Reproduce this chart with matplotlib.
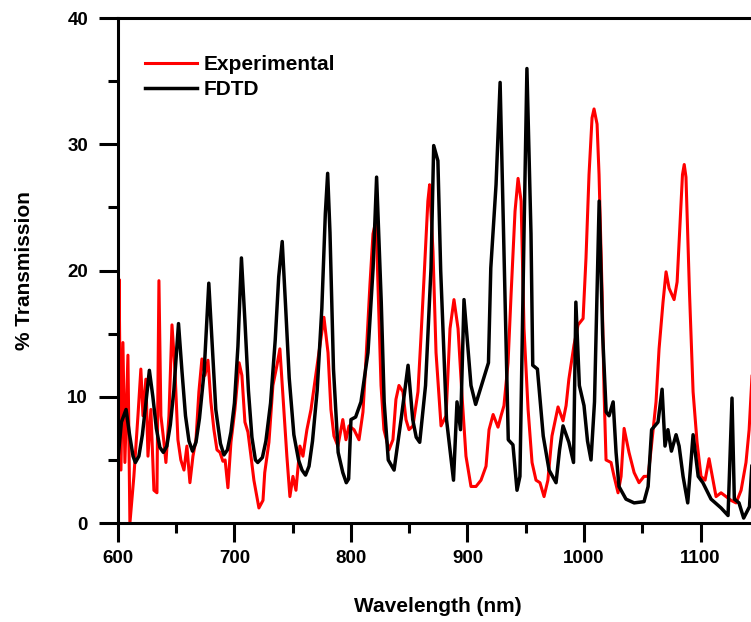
import matplotlib.pyplot as plt
from matplotlib.ticker import MultipleLocator

plt.rcParams['font.family'] = ['Liberation Sans', 'DejaVu Sans']
plt.rcParams['font.weight'] = 'bold'

# %%
# Experimental transmission spectrum (wavelength in nm, % transmission)
exp_wl = [
    600, 601, 602.6, 604.3, 606, 608.6, 610.3, 613.7, 617.2, 619.7, 621.5,
    624, 625.8, 628.3, 630.9, 633.5, 635.2, 636.9, 639.5, 641.2, 643.8,
    646.4, 648.9, 651.5, 654, 656.7, 659.2, 661.8, 664.4, 667, 669.5, 672.1,
    674.7, 677.3, 679.8, 682.4, 685, 687.6, 690.1, 692, 694.4, 697, 700.4,
    704, 706.4, 709, 711.6, 714.2, 716.7, 721, 724.5, 726, 729.6, 733,
    736.5, 739, 742.5, 745, 747.6, 750.2, 752.8, 756.2, 758.8, 762.2,
    765.7, 769, 772.5, 776.8, 780.3, 782.8, 785.4, 788.8, 793, 795.7,
    798.3, 802.6, 806.9, 810.3, 812.9, 816.3, 818.9, 821.5, 823.2, 825.8,
    828.3, 832.6, 836, 838.6, 841.2, 844.6, 847.2, 849.8, 853.2, 857.5,
    860, 862.7, 866, 867.5, 870.4, 873, 877.3, 881.6, 885, 888.4, 891.9,
    895.3, 898.7, 903, 907.3, 911.6, 915.9, 918.5, 922, 926.2, 928.8,
    931.3, 934.8, 937.4, 940.8, 943.4, 946, 948.5, 952, 955.4, 958.8,
    962.2, 965.7, 969, 972.5, 977.7, 982, 984.6, 987, 991.4, 994.9, 999.2,
    1001.7, 1004.3, 1006.9, 1008.6, 1011.2, 1012.9, 1015.5, 1017.2,
    1018.9, 1023.2, 1025.8, 1029.2, 1031.8, 1034.4, 1038.6, 1043, 1047.2,
    1051.5, 1055, 1057.5, 1061.8, 1064.4, 1067.8, 1070.4, 1073, 1077.3,
    1079.9, 1082.4, 1084.5, 1086, 1087.5, 1088.8, 1090.5, 1093.6, 1097,
    1100.4, 1103.9, 1107.3, 1110.7, 1113.3, 1117.6, 1121.9, 1126.2,
    1130.5, 1134.8, 1139, 1141.7, 1144.2,
]
exp_t = [
    6.0, 19.3, 4.2, 14.3, 4.8, 13.3, 0.0, 3.7, 8.5, 12.2, 8.5,
    11.4, 5.3, 9.0, 2.6, 2.4, 19.2, 8.5, 6.4, 4.8, 8.5,
    15.7, 12.2, 6.6, 5.0, 4.2, 6.1, 3.2, 5.3, 6.6, 10.4, 13.0,
    11.7, 12.9, 9.6, 7.4, 5.8, 5.6, 4.9, 5.0, 2.8, 6.4, 9.0,
    12.7, 11.7, 8.0, 7.2, 5.3, 3.4, 1.2, 1.8, 4.0, 6.4, 10.9,
    12.5, 13.8, 8.8, 5.3, 2.1, 3.7, 2.6, 6.1, 5.3, 7.4,
    9.0, 11.2, 13.5, 16.3, 13.5, 9.0, 6.9, 6.1, 8.2, 6.6,
    7.7, 7.4, 6.6, 8.8, 13.0, 18.9, 22.9, 24.0, 18.9, 10.9,
    7.4, 5.8, 6.6, 9.8, 10.9, 10.4, 8.2, 7.4, 7.7, 10.4,
    14.6, 19.4, 25.5, 26.8, 21.5, 13.5, 7.7, 8.5, 15.4, 17.7, 15.4,
    10.1, 5.3, 2.9, 2.9, 3.4, 4.5, 7.4, 8.6, 7.6, 8.5,
    9.3, 12.7, 18.1, 24.7, 27.3, 25.5, 15.4, 9.0, 4.8, 3.4,
    3.2, 2.1, 3.4, 6.9, 9.2, 8.1, 9.3, 11.4, 14.1, 15.7, 16.2,
    21.0, 27.6, 32.1, 32.8, 31.6, 27.6, 18.3, 10.4,
    5.0, 4.8, 3.7, 2.4, 3.7, 7.5, 5.6, 4.0, 3.2,
    3.7, 3.7, 5.8, 9.6, 13.8, 17.5, 19.9, 18.6, 17.7,
    19.1, 23.7, 27.6, 28.4, 27.4, 23.5, 18.3, 10.4, 6.4,
    3.7, 3.4, 5.1, 3.4, 2.1, 2.4, 2.1, 1.8,
    1.6, 2.6, 4.8, 7.4, 11.7,
]

# FDTD simulated transmission spectrum
fdtd_wl = [
    600, 603, 607, 610, 613, 615, 618, 621, 624, 627, 630, 633, 636, 639,
    642, 645, 648, 652, 655, 658, 661, 664, 667, 670, 674, 678, 681, 684,
    688, 691, 694, 697, 700, 703, 706, 709, 712, 715, 718, 720, 724, 727,
    731, 735, 738, 741, 744, 747, 751, 755, 758, 761, 764, 767, 771, 775,
    778, 780, 782, 785, 789, 793, 796, 798, 800, 804, 808.6, 814.6, 819,
    822, 826, 828.5, 832, 837, 843, 849, 853, 856, 859, 864, 868.7, 871,
    874.6, 877, 882, 888, 891, 894, 897, 903, 907, 912, 918, 920, 924.5,
    928, 931, 935, 939, 942.5, 945, 948.5, 951, 954.5, 956, 960, 965,
    970, 976, 979, 982, 987, 991, 993, 996, 1000, 1003, 1006, 1009,
    1013, 1016, 1019, 1021.5, 1025, 1027.5, 1030, 1036, 1043, 1051.5,
    1055, 1058, 1063.5, 1067, 1069.5, 1072, 1075, 1079, 1081.6, 1085,
    1089, 1093.6, 1098, 1102, 1109, 1117.6, 1123.6, 1127, 1129, 1133,
    1137, 1142, 1144,
]
fdtd_t = [
    5.0, 8.0, 9.0, 7.0, 5.3, 4.8, 5.3, 7.0, 9.5, 12.1, 10.0, 7.5, 6.0, 5.6,
    6.1, 7.8, 10.5, 15.8, 12.0, 8.5, 6.5, 5.7, 6.4, 8.3, 12.0, 19.0, 14.0, 9.0,
    6.3, 5.4, 5.8, 7.2, 9.5, 14.0, 21.0, 16.0, 10.5, 6.8, 5.0, 4.8, 5.2, 6.5,
    9.5, 14.5, 19.5, 22.3, 17.0, 11.5, 7.0, 5.0, 4.2, 3.8, 4.5, 6.5, 10.5, 17.0,
    24.5, 27.7, 23.0, 12.2, 5.6, 4.0, 3.2, 3.5, 8.2, 8.4, 9.6, 13.5, 20.2,
    27.4, 17.5, 9.6, 5.0, 4.2, 8.2, 12.5, 8.2, 6.8, 6.4, 10.9, 20.2, 29.9,
    28.7, 20.0, 8.2, 3.4, 9.6, 7.4, 17.7, 10.9, 9.4, 10.9, 12.7, 20.2, 26.8,
    34.9, 22.9, 6.6, 6.2, 2.6, 3.7, 22.9, 36.0, 22.9, 12.5, 12.2, 6.9,
    4.2, 3.2, 5.8, 7.7, 6.4, 4.8, 17.5, 10.9, 9.3, 6.5, 5.0, 9.6,
    25.5, 14.9, 8.8, 8.5, 9.6, 5.6, 2.9, 1.9, 1.6, 1.7,
    2.9, 7.4, 8.0, 10.6, 6.1, 7.4, 5.7, 7.0, 6.1, 3.7,
    1.6, 7.0, 3.7, 3.2, 1.9, 1.2, 0.6, 9.9, 1.9, 1.6,
    0.4, 1.3, 4.5,
]

fig = plt.figure(figsize=(7.51, 6.22), dpi=100)
ax = fig.add_axes([0.157, 0.159, 0.843, 0.812])

ax.plot(exp_wl, exp_t, color="#ff0000", lw=2.2, label="Experimental")
ax.plot(fdtd_wl, fdtd_t, color="black", lw=2.5, label="FDTD")

ax.set_xlim(600, 1143.3)
ax.set_ylim(0, 40)
ax.xaxis.set_major_locator(MultipleLocator(100))
ax.xaxis.set_minor_locator(MultipleLocator(50))
ax.yaxis.set_major_locator(MultipleLocator(10))
ax.yaxis.set_minor_locator(MultipleLocator(5))

for side in ("left", "bottom", "top"):
    ax.spines[side].set_linewidth(2.2)
ax.spines["right"].set_visible(False)

ax.tick_params(which="major", direction="out", length=13.5, width=2.2,
               labelsize=13.5, pad=6)
ax.tick_params(which="minor", direction="out", length=7, width=2.2)
ax.tick_params(axis="y", which="major", pad=8)
for lab in ax.get_xticklabels() + ax.get_yticklabels():
    lab.set_fontweight("bold")

ax.set_xlabel("Wavelength (nm)", fontsize=15, fontweight="bold")
ax.set_ylabel("% Transmission", fontsize=15, fontweight="bold")
ax.xaxis.set_label_coords(0.506, -0.147)
ax.yaxis.set_label_coords(-0.133, 0.501)

leg = ax.legend(loc="upper left", bbox_to_anchor=(0.043, 0.927),
                frameon=False, borderpad=0, borderaxespad=0,
                handlelength=2.5, handletextpad=0.3, labelspacing=0.3,
                prop={"size": 15, "weight": "bold"})

fig.savefig("out.png", dpi=100)
